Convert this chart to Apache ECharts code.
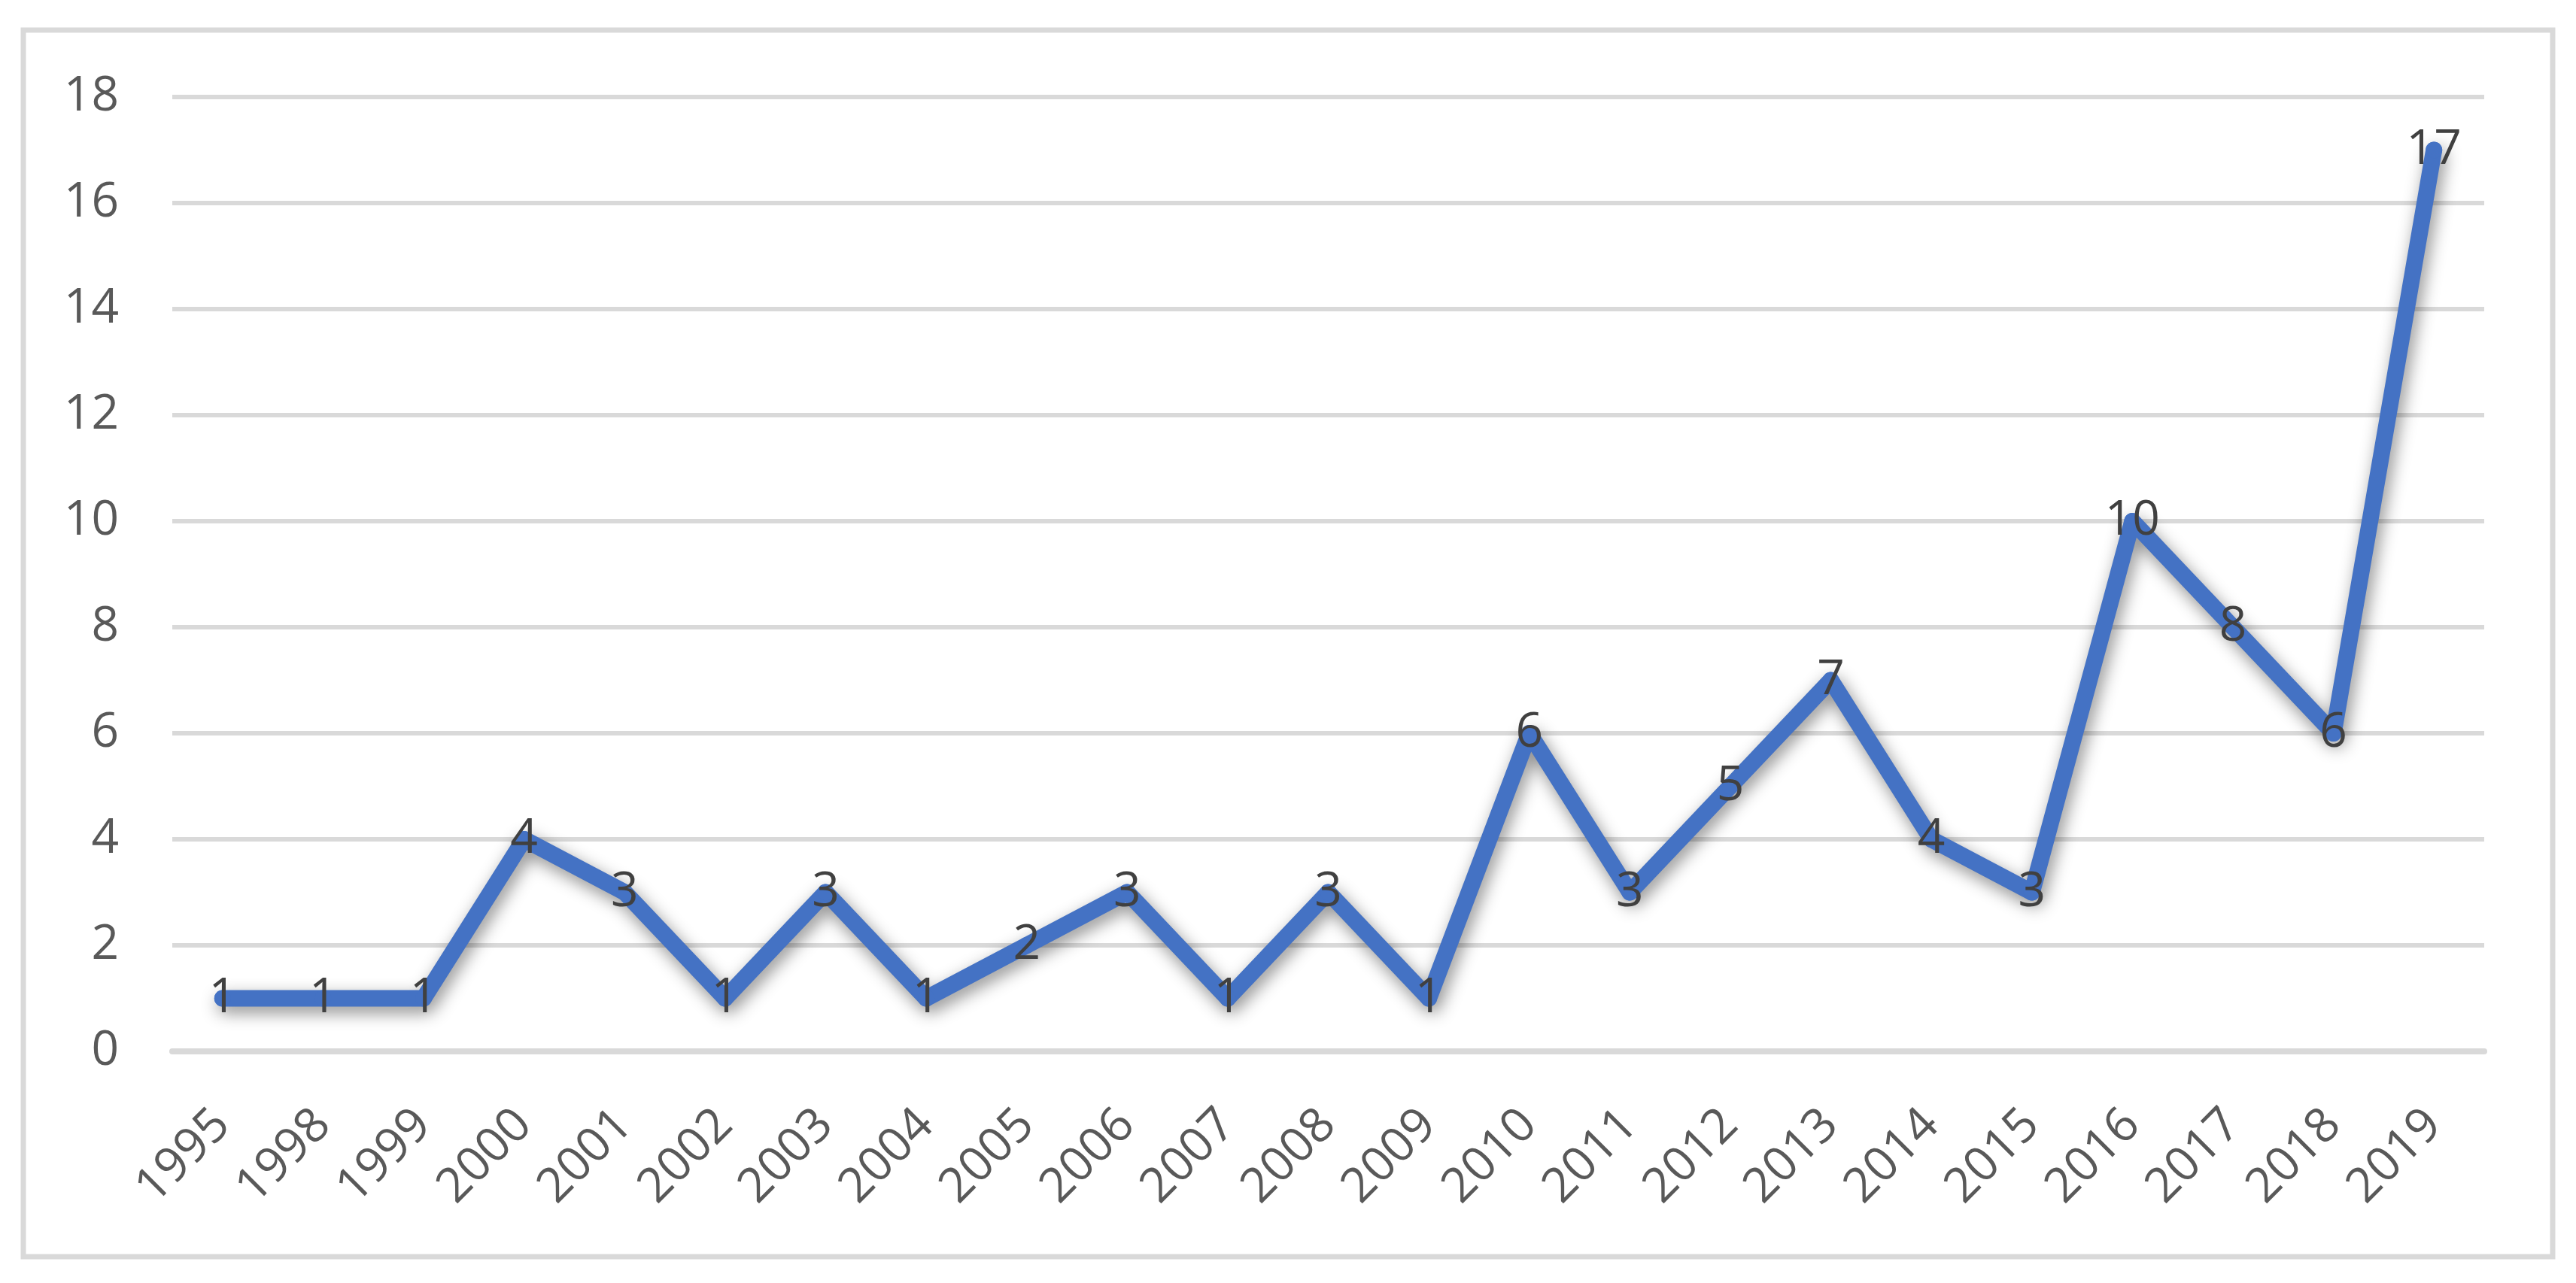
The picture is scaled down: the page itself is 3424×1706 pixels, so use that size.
<!DOCTYPE html>
<html>
<head>
<meta charset="utf-8">
<script src="https://cdn.jsdelivr.net/npm/echarts@6/dist/echarts.min.js"></script>
<style>
  html, body { margin: 0; padding: 0; background: #fff; }
  #chart { width: 3424px; height: 1706px; }
</style>
</head>
<body>
<div id="chart"></div>
<script>
// 年份与数量
const years = ['1995', '1998', '1999', '2000', '2001', '2002', '2003', '2004', '2005', '2006', '2007', '2008',
  '2009', '2010', '2011', '2012', '2013', '2014', '2015', '2016', '2017', '2018', '2019']
const counts = [1, 1, 1, 4, 3, 1, 3, 1, 2, 3, 1, 3, 1, 6, 3, 5, 7, 4, 3, 10, 8, 6, 17]
const yTicks = [0, 2, 4, 6, 8, 10, 12, 14, 16, 18]

const chart = echarts.init(document.getElementById('chart'))

const fontFamily = '"Open Sans", "Liberation Sans", sans-serif'

const option = {
  backgroundColor: '#fff',
  animation: false,
  graphic: [{
    type: 'rect',
    shape: { x: 31, y: 40, width: 3362, height: 1631 },
    style: { fill: 'none', stroke: '#d9d9d9', lineWidth: 7 },
    z: -1
  }],
  grid: { left: 229, right: 122, top: 129, bottom: 308 },
  xAxis: {
    type: 'category',
    data: years,
    boundaryGap: true,
    axisLine: { lineStyle: { color: '#d9d9d9', width: 8 } },
    axisTick: { show: false },
    axisLabel: {
      color: '#595959',
      fontSize: 64,
      fontFamily,
      rotate: 45,
      margin: 88,
      interval: 0
    }
  },
  yAxis: {
    type: 'value',
    min: yTicks[0],
    max: yTicks[yTicks.length - 1],
    interval: yTicks[1] - yTicks[0],
    axisLine: { show: false },
    axisTick: { show: false },
    axisLabel: { color: '#595959', fontSize: 64, fontFamily, margin: 71 },
    splitLine: { lineStyle: { color: '#d9d9d9', width: 6 } }
  },
  series: [{
    type: 'line',
    data: counts,
    symbol: 'circle',
    symbolSize: 22,
    itemStyle: { color: '#4472c4' },
    lineStyle: {
      color: '#4472c4',
      width: 22,
      cap: 'round',
      join: 'round',
      shadowColor: 'rgba(0, 0, 0, 0.45)',
      shadowBlur: 22,
      shadowOffsetX: 4,
      shadowOffsetY: 8
    },
    label: {
      show: true,
      position: 'inside',
      color: '#404040',
      fontSize: 64,
      fontFamily
    }
  }]
}

chart.setOption(option)
</script>
</body>
</html>
